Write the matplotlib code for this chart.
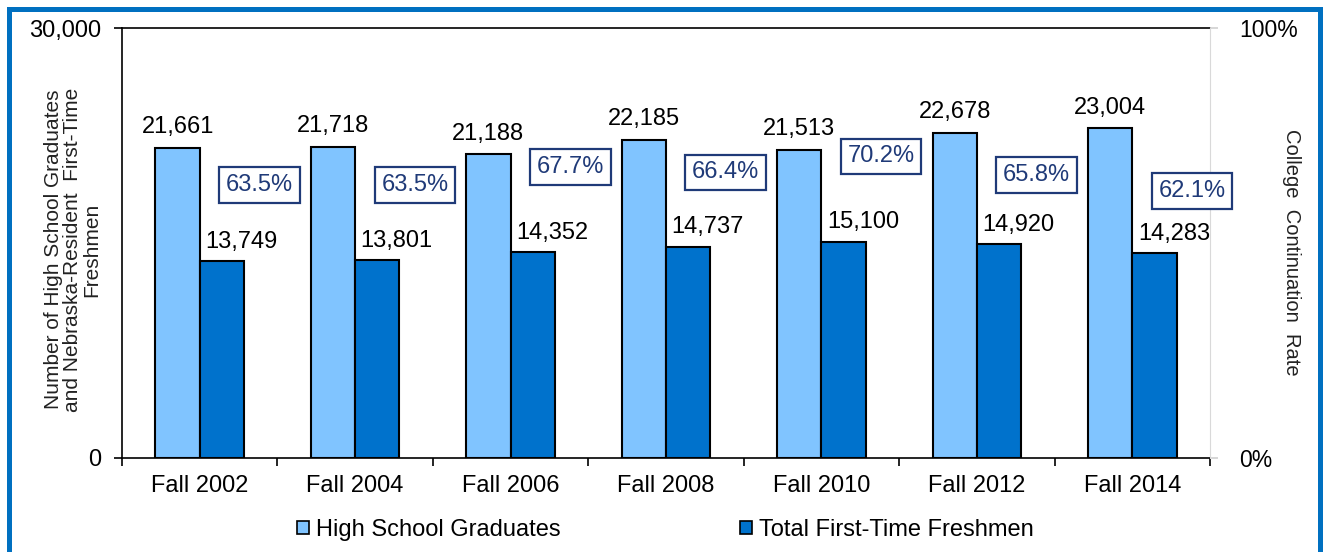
import numpy as np
import matplotlib
matplotlib.use("Agg")
from matplotlib import pyplot as plt
from matplotlib.patches import Patch, Rectangle

plt.rcParams['font.family'] = ['Liberation Sans', 'DejaVu Sans']

# data
terms = ["Fall 2002", "Fall 2004", "Fall 2006", "Fall 2008", "Fall 2010", "Fall 2012", "Fall 2014"]
hs_grads = [21661, 21718, 21188, 22185, 21513, 22678, 23004]
freshmen = [13749, 13801, 14352, 14737, 15100, 14920, 14283]
cont_rate = [63.5, 63.5, 67.7, 66.4, 70.2, 65.8, 62.1]

c_hs = "#80C4FF"
c_ftf = "#0072CC"
c_navy = "#1F3A78"

fig = plt.figure(figsize=(13.28, 5.52), dpi=100)
ax = fig.add_axes([122 / 1328, 1 - 458 / 552, (1210 - 122) / 1328, (458 - 28) / 552])

x = np.arange(len(terms))
w = 0.285
ax.bar(x - w / 2, hs_grads, w, color=c_hs, edgecolor="black", linewidth=1.5, zorder=3)
ax.bar(x + w / 2, freshmen, w, color=c_ftf, edgecolor="black", linewidth=1.5, zorder=3)

for xi, v in zip(x, hs_grads):
    ax.annotate(f"{v:,}", (xi - w / 2, v), xytext=(0, 7), textcoords="offset points",
                ha="center", va="bottom", fontsize=17)
for xi, v in zip(x, freshmen):
    ax.annotate(f"{v:,}", (xi + w / 2, v), xytext=(14, 6), textcoords="offset points",
                ha="center", va="bottom", fontsize=17)

ax.set_xlim(-0.5, len(terms) - 0.5)
ax.set_ylim(0, 30000)
ax.set_yticks([0, 30000])
ax.set_yticklabels(["0", "30,000"])
ax.set_xticks(x)
ax.set_xticklabels(terms)
ax.set_xticks(np.arange(len(terms) + 1) - 0.5, minor=True)
ax.tick_params(axis="x", which="major", length=0, labelsize=17, pad=12)
ax.tick_params(axis="x", which="minor", length=6, width=1.2, direction="out")
ax.tick_params(axis="y", length=6, width=1.2, labelsize=17, pad=9)
for s in ["left", "bottom", "top"]:
    ax.spines[s].set_linewidth(1.2)
ax.spines["right"].set_visible(False)
ax.set_ylabel("Number of High School Graduates\nand Nebraska-Resident  First-Time\nFreshmen",
              fontsize=15, color="#222222", linespacing=1.0)
ax.yaxis.set_label_coords(-0.019, 0.485)

# continuation rate on the right axis, shown only as boxed labels
ax2 = ax.twinx()
ax2.set_ylim(0, 100)
ax2.set_yticks([0, 100])
ax2.set_yticklabels(["0%", "100%"])
ax2.tick_params(axis="y", length=6, width=1.2, color="#D0D0D0", labelsize=16.5, pad=15)
for s in ["left", "bottom", "top"]:
    ax2.spines[s].set_visible(False)
ax2.spines["right"].set_color("#D9D9D9")
ax2.set_ylabel("College  Continuation  Rate", fontsize=14.5, color="#222222",
               rotation=270, va="center")
ax2.yaxis.set_label_coords(1.0745, 0.478)
for xi, r in zip(x, cont_rate):
    ax2.annotate(f"{r:.1f}%", (xi, r), xytext=(43, 0), textcoords="offset points",
                 ha="center", va="center", fontsize=17, color=c_navy,
                 bbox=dict(boxstyle="square,pad=0.28", fc="white", ec=c_navy, lw=1.6))

handles = [Patch(facecolor=c_hs, edgecolor="black", linewidth=1.2),
           Patch(facecolor=c_ftf, edgecolor="black", linewidth=1.2)]
fig.legend(handles, ["High School Graduates", "Total First-Time Freshmen"],
           loc="center", bbox_to_anchor=(0.501, 0.04), ncol=2, frameon=False,
           fontsize=17, handlelength=0.5, handleheight=0.5, handletextpad=0.3,
           columnspacing=7.6)

# blue frame around the chart
fig.patches.append(Rectangle((8.5 / 1328, -0.1), (1320 - 8.5) / 1328, 1.1 - 9 / 552,
                             transform=fig.transFigure, fill=False, ec="#0070C0", lw=3.6))

fig.savefig("out.png", dpi=100, facecolor="white")
